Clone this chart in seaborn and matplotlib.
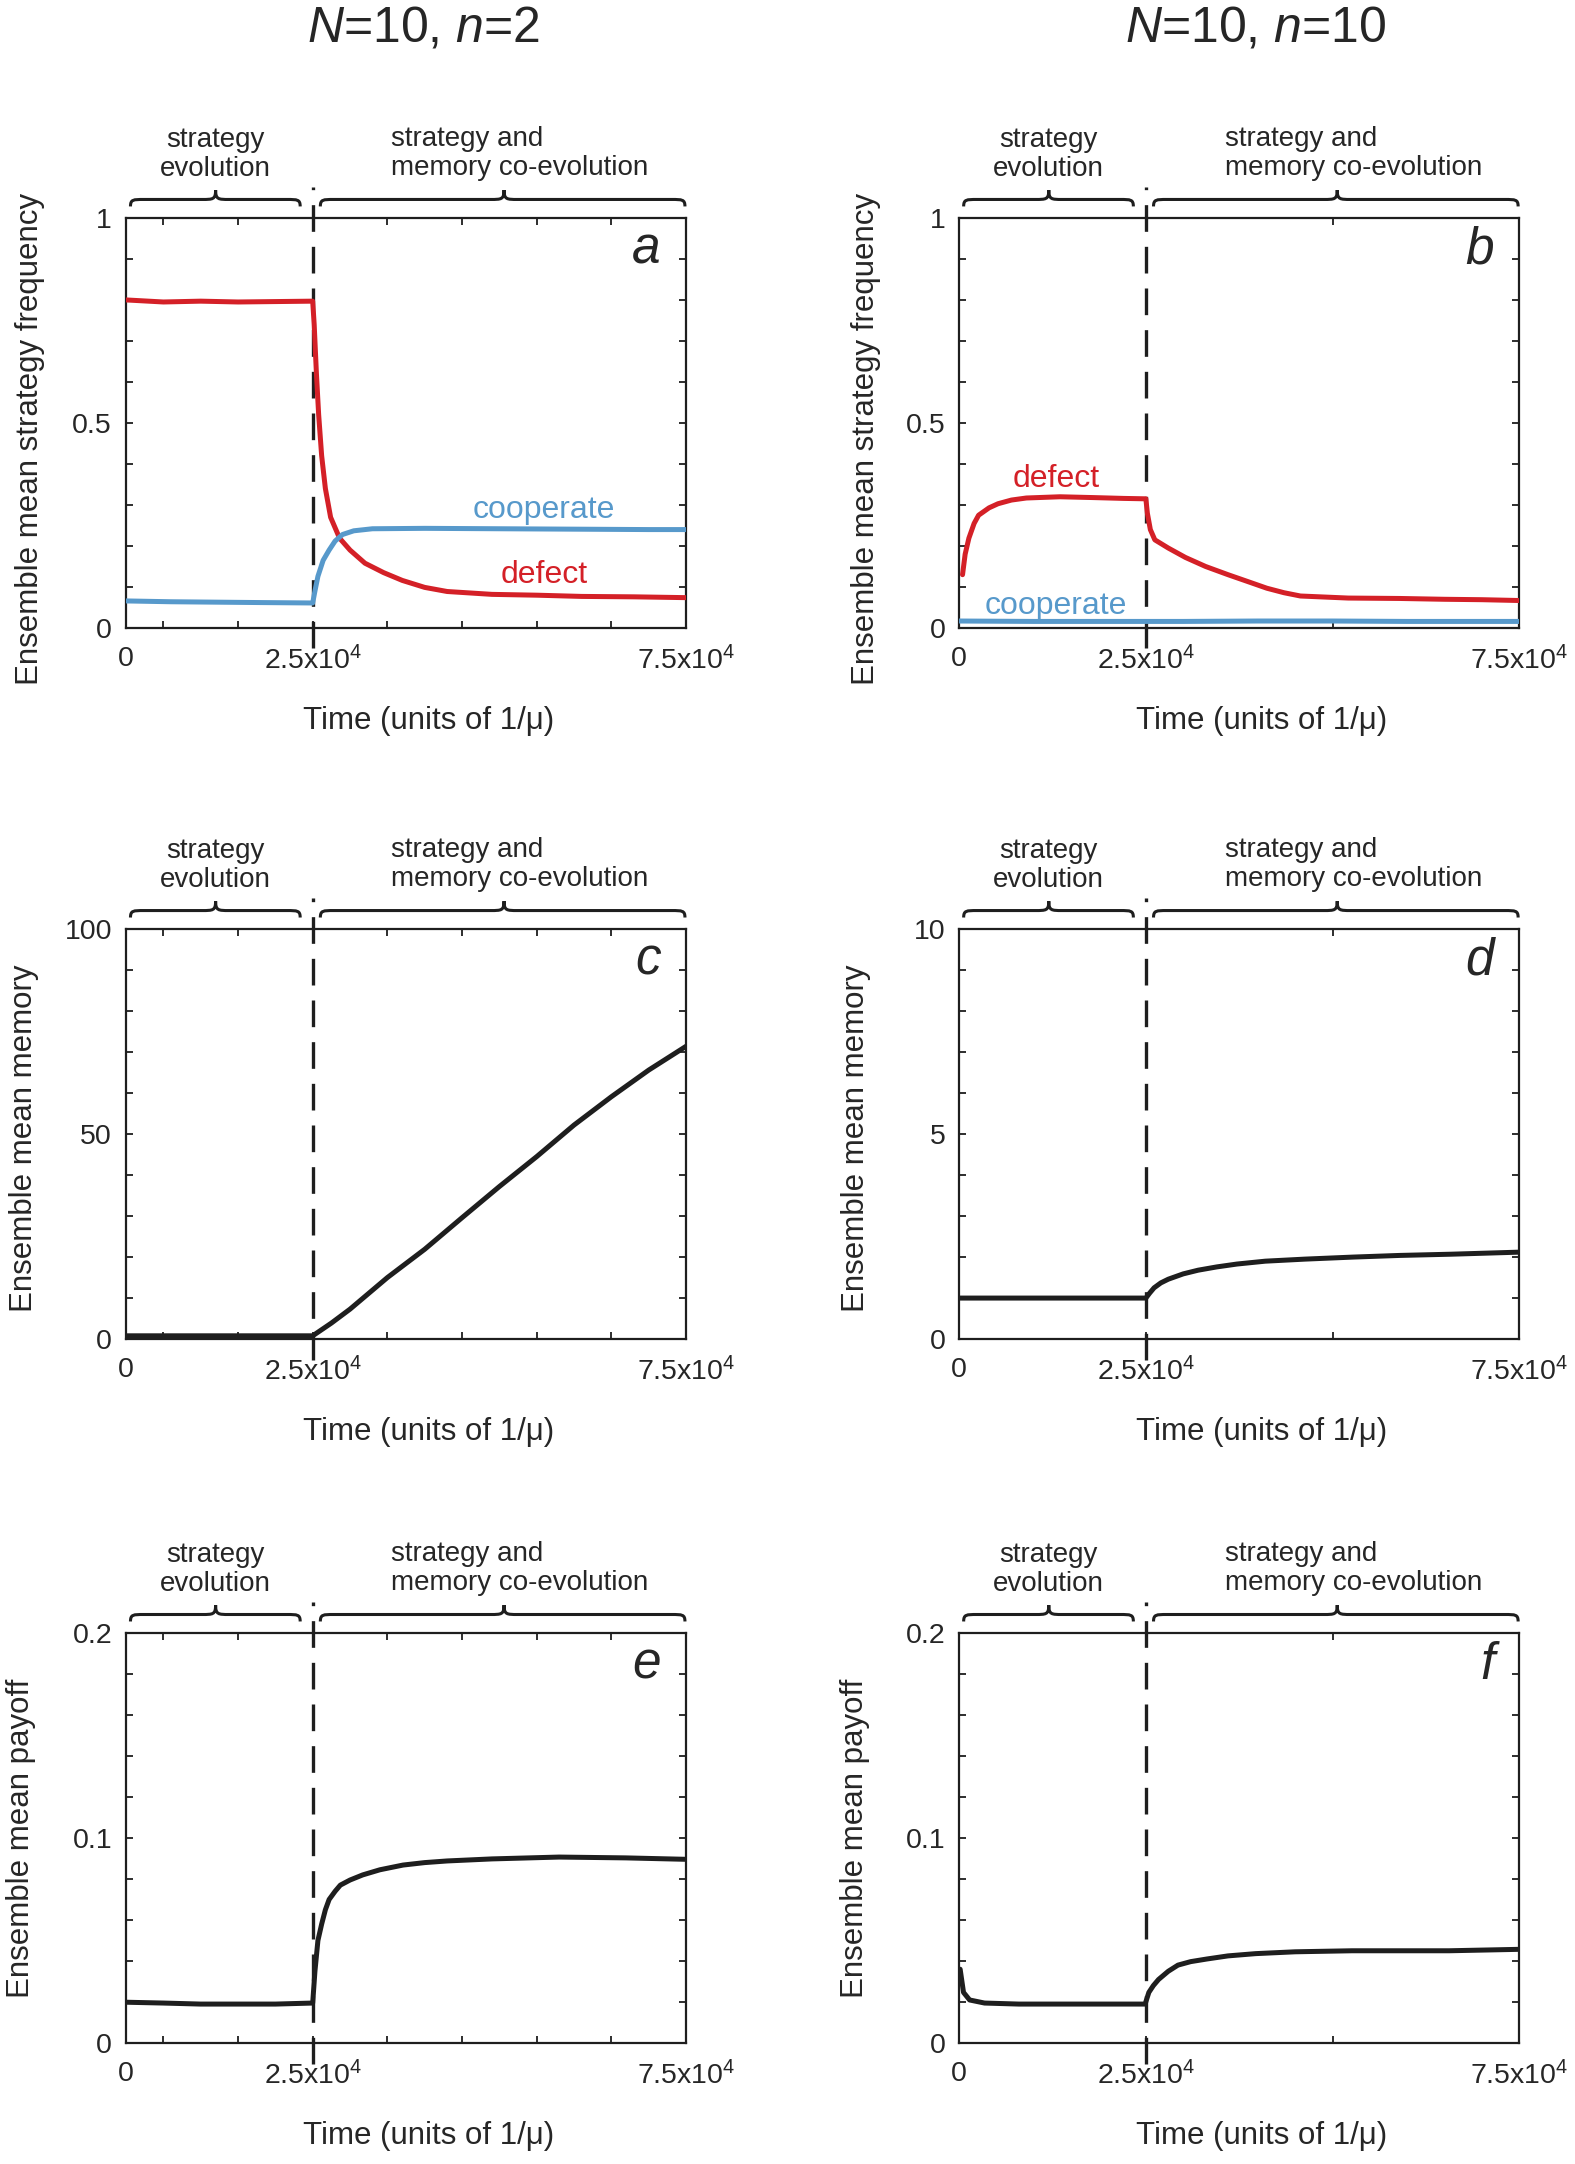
import numpy as np
import pandas as pd
import matplotlib
matplotlib.use("Agg")
import matplotlib.pyplot as plt
import seaborn as sns
from matplotlib.path import Path
from matplotlib.patches import PathPatch

# --- data, time in units of 10^4 (x 1/mu) ---
# panel a : N=10, n=2, strategy frequency
a_t_defect = [0, 0.5, 1.0, 1.5, 2.0, 2.5, 2.52, 2.55, 2.58, 2.62, 2.67, 2.74, 2.86,
              3.0, 3.2, 3.45, 3.7, 4.0, 4.3, 4.9, 5.5, 6.1, 6.8, 7.5]
a_defect = [0.80, 0.795, 0.797, 0.795, 0.796, 0.797, 0.74, 0.62, 0.52, 0.42, 0.34, 0.27, 0.219,
            0.19, 0.158, 0.135, 0.116, 0.099, 0.089, 0.082, 0.080, 0.077, 0.076, 0.074]
a_t_coop = [0, 0.6, 1.2, 1.8, 2.5, 2.53, 2.57, 2.64, 2.72, 2.8, 2.9, 3.05, 3.3,
            4.0, 5.0, 6.0, 7.0, 7.5]
a_coop = [0.066, 0.064, 0.063, 0.062, 0.061, 0.09, 0.126, 0.165, 0.19, 0.212, 0.228, 0.237, 0.242,
          0.243, 0.242, 0.241, 0.240, 0.240]

# panel b : N=10, n=10, strategy frequency
b_t_defect = [0.045, 0.08, 0.13, 0.2, 0.26, 0.4, 0.52, 0.7, 0.9, 1.35, 1.8, 2.2, 2.5,
              2.52, 2.56, 2.62, 2.8, 3.03, 3.3, 3.6, 3.9, 4.12, 4.35, 4.57, 5.21, 5.9, 6.5, 7.0, 7.5]
b_defect = [0.13, 0.18, 0.219, 0.255, 0.275, 0.293, 0.303, 0.312, 0.317, 0.32, 0.318, 0.316, 0.315,
            0.28, 0.24, 0.215, 0.195, 0.172, 0.15, 0.13, 0.111, 0.097, 0.086, 0.078, 0.073, 0.072,
            0.070, 0.069, 0.067]
b_t_coop = [0, 1, 2, 3, 4, 5, 6, 7, 7.5]
b_coop = [0.017, 0.016, 0.016, 0.016, 0.017, 0.017, 0.016, 0.016, 0.016]

# panel c : N=10, n=2, mean memory
c_t = [0, 1, 2, 2.5, 2.75, 3.0, 3.5, 4.0, 4.5, 5.0, 5.5, 6.0, 6.5, 7.0, 7.5]
c_mem = [0.8, 0.8, 0.8, 0.8, 3.9, 7.3, 15.0, 21.9, 29.6, 37.2, 44.5, 52.2, 59.1, 65.6, 71.4]

# panel d : N=10, n=10, mean memory
d_t = [0, 1, 2, 2.5, 2.55, 2.61, 2.7, 2.8, 3.0, 3.2, 3.45, 3.72, 4.1, 4.63, 5.28, 5.9, 6.59, 7.5]
d_mem = [1, 1, 1, 1, 1.12, 1.25, 1.37, 1.46, 1.59, 1.68, 1.76, 1.83, 1.9, 1.95, 2.0, 2.04, 2.07, 2.12]

# panel e : N=10, n=2, mean payoff
e_t = [0, 0.5, 1.0, 1.5, 2.0, 2.5, 2.53, 2.57, 2.62, 2.67, 2.72, 2.8, 2.87, 3.0, 3.17,
       3.4, 3.71, 4.0, 4.3, 4.9, 5.8, 6.69, 7.5]
e_pay = [0.0199, 0.0195, 0.019, 0.019, 0.019, 0.0195, 0.035, 0.05, 0.058, 0.065, 0.070, 0.074,
         0.077, 0.0795, 0.082, 0.0845, 0.0868, 0.088, 0.0888, 0.0898, 0.0907, 0.0903, 0.0896]

# panel f : N=10, n=10, mean payoff
f_t = [0.013, 0.058, 0.14, 0.34, 0.8, 1.4, 2.0, 2.49, 2.54, 2.6, 2.67, 2.8, 2.93, 3.1,
       3.32, 3.6, 3.97, 4.5, 5.26, 6.0, 6.56, 7.5]
f_pay = [0.036, 0.0247, 0.021, 0.0195, 0.019, 0.019, 0.019, 0.019, 0.0247, 0.028, 0.031, 0.035,
         0.038, 0.0397, 0.041, 0.0425, 0.0436, 0.0445, 0.045, 0.045, 0.045, 0.0457]

# --- axis ticks / labels ---
XT_2 = [0, 0.5e4, 1.5e4, 2.5e4, 3.5e4, 4.5e4, 5.5e4, 6.5e4, 7.5e4]
XL_2 = ['0', '', '', r'2.5x10$^4$', '', '', '', '', r'7.5x10$^4$']
XT_10 = [0, 2.5e4, 5e4, 7.5e4]
XL_10 = ['0', r'2.5x10$^4$', '', r'7.5x10$^4$']
YT_FREQ = [0, 0.1, 0.2, 0.3, 0.4, 0.5, 0.6, 0.7, 0.8, 0.9, 1.0]
YL_FREQ = ['0', '', '', '', '', '0.5', '', '', '', '', '1']
YT_MEM2 = [0, 10, 20, 30, 40, 50, 60, 70, 80, 90, 100]
YL_MEM2 = ['0', '', '', '', '', '50', '', '', '', '', '100']
YT_MEM10 = [0, 1, 2, 3, 4, 5, 6, 7, 8, 9, 10]
YL_MEM10 = ['0', '', '', '', '', '5', '', '', '', '', '10']
YT_PAY = [0, 0.02, 0.04, 0.06, 0.08, 0.1, 0.12, 0.14, 0.16, 0.18, 0.2]
YL_PAY = ['0', '', '', '', '', '0.1', '', '', '', '', '0.2']

RED = "#d42027"
BLUE = "#5799cb"
BLACK = "#1e1e1e"

sns.set_style("ticks")
plt.rcParams['font.family'] = ['Liberation Sans', 'DejaVu Sans']
plt.rcParams['mathtext.fontset'] = 'custom'
plt.rcParams['mathtext.rm'] = 'Liberation Sans'
plt.rcParams['mathtext.it'] = 'Liberation Sans:italic'
plt.rcParams['axes.linewidth'] = 1.6
plt.rcParams['axes.edgecolor'] = BLACK

LW = 3.6


def to_df(series):
    rows = []
    for name, t, v in series:
        for ti, vi in zip(t, v):
            rows.append({'time': ti * 1e4, 'value': vi, 'series': name})
    return pd.DataFrame(rows)


def brace(ax, x0, x1, xm, yb=1.028, yh=1.045, yt=1.068, r=0.024):
    M, C, L = Path.MOVETO, Path.CURVE4, Path.LINETO
    verts = [(x0, yb), (x0, yh), (x0 + 0.2 * r, yh), (x0 + r, yh),
             (xm - r, yh),
             (xm - 0.2 * r, yh), (xm, yh), (xm, yt),
             (xm, yh), (xm + 0.2 * r, yh), (xm + r, yh),
             (x1 - r, yh),
             (x1 - 0.2 * r, yh), (x1, yh), (x1, yb)]
    codes = [M, C, C, C, L, C, C, C, C, C, C, L, C, C, C]
    ax.add_patch(PathPatch(Path(verts, codes), transform=ax.transAxes, fill=False,
                           lw=2.2, edgecolor=BLACK, clip_on=False))


def setup(ax, xt, xl, yt, yl, ylim, letter, ylabel, ylab_x, ylab_y):
    ax.set_xlim(0, 7.5e4)
    ax.set_ylim(*ylim)
    ax.set_xticks(xt)
    ax.set_xticklabels(xl)
    ax.set_yticks(yt)
    ax.set_yticklabels(yl)
    ax.tick_params(direction='in', top=True, right=True, length=5, width=1.3,
                   labelsize=20.5, color=BLACK)
    ax.tick_params(axis='x', pad=13)
    ax.tick_params(axis='y', pad=10)
    for s in ax.spines.values():
        s.set_visible(True)
    ax.axvline(2.5e4, ymin=-0.05, ymax=1.075, clip_on=False, color=BLACK, lw=2.4,
               dashes=(8, 4.5), zorder=1)
    ax.set_xlabel('Time (units of 1/\u03bc)', fontsize=22.5)
    ax.xaxis.set_label_coords(0.54, -0.19)
    ax.set_ylabel(ylabel, fontsize=22.5)
    ax.yaxis.set_label_coords(ylab_x, ylab_y)
    ax.text(0.955, 0.888, letter, transform=ax.transAxes, ha='right', va='baseline',
            fontsize=37, style='italic')
    brace(ax, 0.008, 0.311, 0.16)
    brace(ax, 0.347, 0.998, 0.675)
    ax.text(0.16, 1.088, 'strategy\nevolution', transform=ax.transAxes, ha='center',
            va='bottom', fontsize=20, linespacing=1.15)
    ax.text(0.474, 1.09, 'strategy and\nmemory co-evolution', transform=ax.transAxes,
            ha='left', va='bottom', fontsize=20, linespacing=1.15)


fig = plt.figure(figsize=(15.75, 21.64), dpi=100)
lefts = [0.080, 0.609]
bottoms = [0.7098, 0.3812, 0.0559]
W, H = 0.3556, 0.1895
axes = [[fig.add_axes([l, b, W, H]) for l in lefts] for b in bottoms]

pal = {'defect': RED, 'cooperate': BLUE}

# row 1 : strategy frequencies
ax = axes[0][0]
df = to_df([('defect', a_t_defect, a_defect), ('cooperate', a_t_coop, a_coop)])
sns.lineplot(data=df, x='time', y='value', hue='series', palette=pal, lw=LW,
             legend=False, estimator=None, ax=ax, zorder=3)
setup(ax, XT_2, XL_2, YT_FREQ, YL_FREQ, (0, 1), 'a',
      'Ensemble mean strategy frequency', -0.145, 0.46)
ax.text(5.59e4, 0.288, 'cooperate', color=BLUE, fontsize=23, ha='center', va='center')
ax.text(5.6e4, 0.13, 'defect', color=RED, fontsize=23, ha='center', va='center')

ax = axes[0][1]
df = to_df([('defect', b_t_defect, b_defect), ('cooperate', b_t_coop, b_coop)])
sns.lineplot(data=df, x='time', y='value', hue='series', palette=pal, lw=LW,
             legend=False, estimator=None, ax=ax, zorder=3)
setup(ax, XT_10, XL_10, YT_FREQ, YL_FREQ, (0, 1), 'b',
      'Ensemble mean strategy frequency', -0.14, 0.46)
ax.text(1.3e4, 0.364, 'defect', color=RED, fontsize=23, ha='center', va='center')
ax.text(1.3e4, 0.054, 'cooperate', color=BLUE, fontsize=23, ha='center', va='center')

# row 2 : memory
ax = axes[1][0]
sns.lineplot(x=np.array(c_t) * 1e4, y=c_mem, color=BLACK, lw=LW, ax=ax, zorder=3)
setup(ax, XT_2, XL_2, YT_MEM2, YL_MEM2, (0, 100), 'c',
      'Ensemble mean memory', -0.155, 0.49)

ax = axes[1][1]
sns.lineplot(x=np.array(d_t) * 1e4, y=d_mem, color=BLACK, lw=LW, ax=ax, zorder=3)
setup(ax, XT_10, XL_10, YT_MEM10, YL_MEM10, (0, 10), 'd',
      'Ensemble mean memory', -0.158, 0.49)

# row 3 : payoff
ax = axes[2][0]
sns.lineplot(x=np.array(e_t) * 1e4, y=e_pay, color=BLACK, lw=LW, ax=ax, zorder=3)
setup(ax, XT_2, XL_2, YT_PAY, YL_PAY, (0, 0.2), 'e',
      'Ensemble mean payoff', -0.16, 0.5)

ax = axes[2][1]
sns.lineplot(x=np.array(f_t) * 1e4, y=f_pay, color=BLACK, lw=LW, ax=ax, zorder=3)
setup(ax, XT_10, XL_10, YT_PAY, YL_PAY, (0, 0.2), 'f',
      'Ensemble mean payoff', -0.16, 0.5)

fig.text(0.269, 0.987, '$N$=10, $n$=2', fontsize=36, ha='center', va='center')
fig.text(0.797, 0.987, '$N$=10, $n$=10', fontsize=36, ha='center', va='center')

fig.savefig('out.png', dpi=100, facecolor='white')
